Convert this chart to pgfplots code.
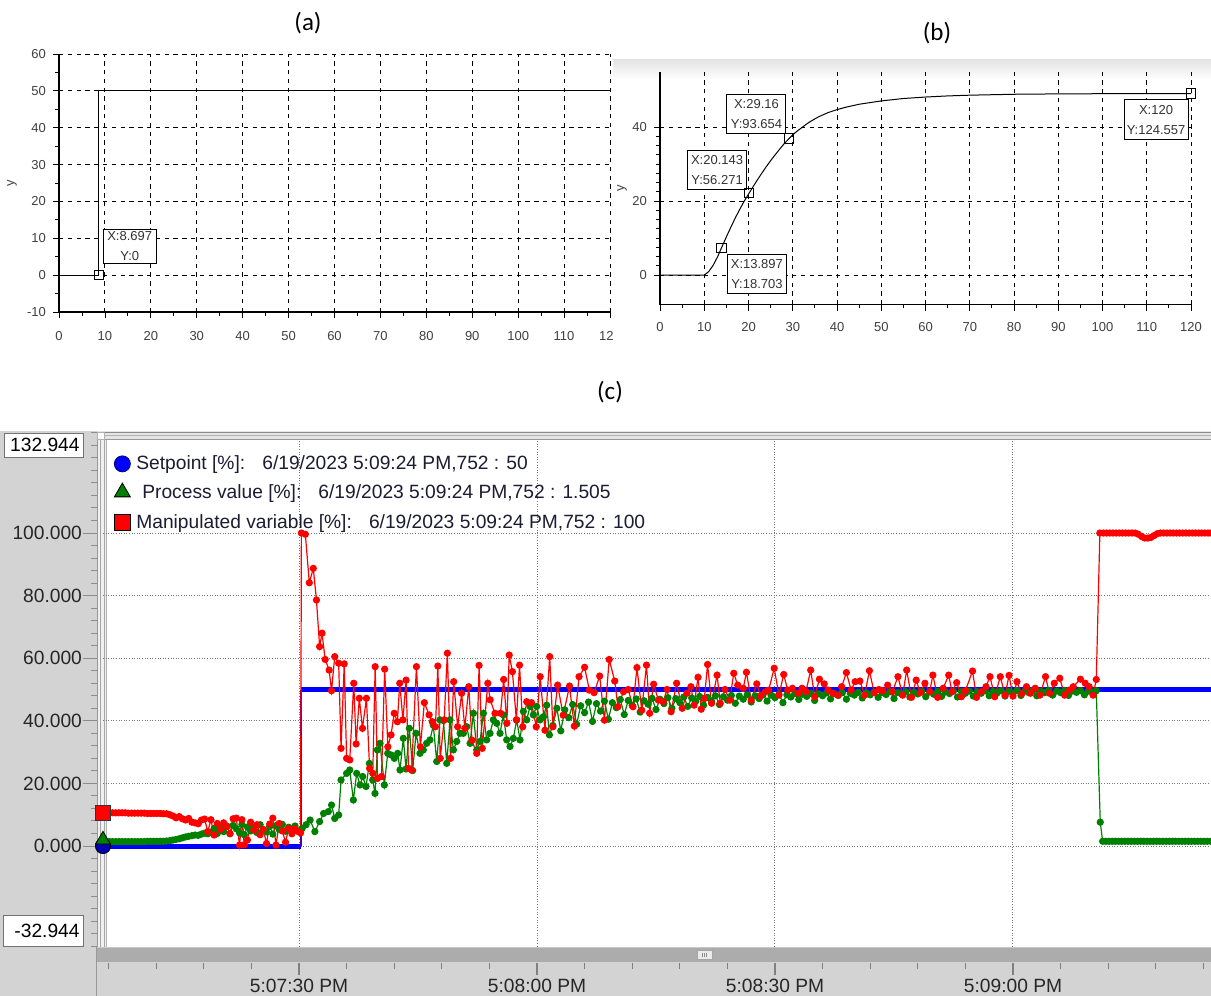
\documentclass[border=0pt]{standalone}
\usepackage{fontspec}
\setmainfont{Liberation Sans}
\newfontfamily\calibri{Carlito}
\usepackage{pgfplots}
\usepackage{pgfplotstable}
\pgfplotsset{compat=1.18}
\definecolor{mvred}{RGB}{255,0,0}
\definecolor{pvgreen}{RGB}{0,128,0}
\definecolor{spblue}{RGB}{0,0,255}
\definecolor{panelgray}{RGB}{211,211,211}
\definecolor{scrollgray}{RGB}{172,172,172}
\definecolor{gridgray}{RGB}{120,120,120}
\definecolor{legtext}{RGB}{28,28,50}
\newcommand\tickf{\fontsize{6.5}{7.5}\selectfont}
\newcommand\annf{\fontsize{6.5}{10}\selectfont}
\newcommand\cf{\fontsize{9.6}{11}\selectfont}

\pgfplotstableread{
t v
5.3 10.6
5.7 10.6
6.1 10.6
6.5 10.6
6.9 10.6
7.3 10.6
7.7 10.6
8.1 10.6
8.5 10.5
8.9 10.5
9.3 10.5
9.7 10.5
10.1 10.5
10.5 10.5
10.9 10.4
11.3 10.4
11.7 10.4
12.1 10.4
12.5 10.4
12.9 10.3
13.3 10.3
13.7 10.0
14.1 9.6
14.5 9.0
14.9 9.4
15.3 8.7
15.7 8.3
16.1 8.8
16.5 7.6
16.9 7.4
17.3 7.1
17.7 8.3
18.1 8.6
18.5 4.6
18.9 8.4
19.3 3.5
19.7 7.2
20.1 5.3
20.5 7.4
20.9 6.2
21.3 4.0
21.7 8.7
22.1 8.9
22.5 0.3
22.8 8.4
23.1 0.4
23.5 1.9
23.9 7.6
24.3 5.1
24.7 6.8
25.1 3.6
25.5 5.3
25.9 0.8
26.3 7.0
26.7 8.9
27.1 0.3
27.5 7.2
27.9 4.8
28.3 1.2
28.7 5.6
29.1 3.9
29.5 5.5
29.9 4.6
30.2 4.2
30.3 100
30.8 99.6
31.3 84.1
31.8 88.7
32.2 78.6
32.6 63.7
32.9 68.0
33.3 59.6
33.8 56.2
34.1 49.6
34.5 60.5
35.0 58.4
35.3 31.2
35.7 58.2
36.0 28.0
36.4 27.5
36.9 52.0
37.2 32.6
37.6 47.2
38.0 37.6
38.5 47.2
38.9 24.8
39.3 23.2
39.6 57.3
39.9 21.6
40.4 22.2
40.8 56.5
41.2 31.7
41.6 35.5
42.0 42.4
42.4 39.7
42.7 52.0
43.1 40.3
43.5 53.0
43.8 24.8
44.2 24.3
44.8 57.3
45.3 31.7
45.8 45.8
46.4 41.9
46.8 39.7
47.2 38.1
47.5 57.5
47.8 28.0
48.3 40.3
48.7 61.6
49.1 28.0
49.5 52.5
50.0 38.1
50.5 48.8
50.9 37.6
51.4 50.9
51.8 33.8
52.4 29.6
52.7 57.7
53.1 31.2
53.8 52.0
54.1 46.7
54.7 42.4
55.4 42.4
55.8 53.2
56.2 39.2
56.5 61.0
56.9 55.7
57.4 40.3
57.8 57.8
58.2 38.1
58.7 46.1
59.3 45.8
59.9 38.1
60.4 54.1
61.0 37.0
61.6 60.5
62.0 38.1
62.6 51.4
63.3 41.8
64.1 51.1
64.7 38.3
65.3 54.1
66.0 57.1
66.6 49.8
67.2 49.0
67.9 54.3
68.5 40.2
69.1 59.6
69.8 52.7
70.2 44.5
70.9 49.3
71.5 50.0
72.1 44.5
72.6 57.0
73.2 43.4
73.8 57.8
74.2 42.4
74.7 51.7
75.3 46.6
75.9 46.1
76.4 50.0
76.9 42.9
77.6 52.0
78.3 44.0
78.9 48.8
79.4 50.9
79.8 45.0
80.3 53.9
80.7 43.7
81.1 47.2
81.5 58.0
82.0 45.6
82.7 54.6
83.1 45.6
83.7 50.0
84.3 46.6
84.8 55.2
85.3 51.4
86.0 50.4
86.4 55.5
87.0 46.6
87.7 51.8
88.2 47.9
88.8 49.3
89.2 49.8
89.9 56.8
90.5 48.2
91.1 54.8
91.6 49.8
92.2 50.4
92.9 48.8
93.4 50.4
93.9 49.3
94.5 56.2
95.0 47.7
95.6 53.3
96.2 51.8
96.7 49.8
97.3 48.8
97.9 48.2
98.4 50.9
99.0 55.4
99.6 49.8
100.1 52.5
100.7 52.7
101.3 48.2
101.9 56.0
102.5 49.0
103.1 50.0
103.6 49.6
104.2 51.4
104.8 49.3
105.5 54.1
106.1 48.2
106.6 56.2
107.2 47.5
107.8 53.0
108.3 49.0
108.9 52.0
109.5 49.3
109.9 54.6
110.5 47.5
111.2 50.4
111.9 54.6
112.3 49.3
112.9 52.2
113.5 47.7
114.0 49.6
114.9 55.9
115.4 47.5
116.0 49.3
116.6 50.9
117.1 54.1
117.7 47.7
118.4 54.1
119.0 48.2
119.5 54.5
120.0 47.9
120.5 52.5
121.1 48.6
121.7 50.9
122.2 48.8
122.8 50.4
123.4 48.2
124.1 54.1
124.6 48.8
125.2 52.0
125.9 53.6
126.5 48.2
127.1 49.8
127.6 50.9
128.5 53.3
129.1 52.0
129.6 50.9
130.1 48.2
130.5 53.2
130.95 100
131.4 100
131.8 100
132.2 100
132.6 100
133.0 100
133.4 100
133.8 100
134.2 100
134.6 100
135.0 100
135.4 100
135.8 99.6
136.2 98.9
136.6 98.4
137.0 98.4
137.4 98.6
137.8 99.2
138.2 99.8
138.6 100
139.0 100
139.4 100
139.8 100
140.2 100
140.6 100
141.0 100
141.4 100
141.8 100
142.2 100
142.6 100
143.0 100
143.4 100
143.8 100
144.2 100
144.6 100
144.95 100
}\mvdata

\pgfplotstableread{
t v
5.3 1.4
5.7 1.4
6.1 1.4
6.5 1.4
6.9 1.4
7.3 1.4
7.7 1.4
8.1 1.4
8.5 1.4
8.9 1.4
9.3 1.4
9.7 1.4
10.1 1.4
10.5 1.4
10.9 1.5
11.3 1.5
11.7 1.5
12.1 1.5
12.5 1.5
12.9 1.5
13.3 1.6
13.7 1.7
14.1 1.9
14.5 2.1
14.9 2.3
15.3 2.6
15.7 2.9
16.1 3.1
16.5 3.3
16.9 3.5
17.3 3.4
17.7 3.8
18.1 4.1
18.5 3.9
18.9 4.4
19.3 5.6
19.7 4.0
20.1 5.8
20.5 4.6
20.9 6.4
21.3 3.9
21.7 6.6
22.1 5.5
22.5 4.2
22.8 6.9
23.1 3.6
23.5 6.1
23.9 4.8
24.3 5.9
24.7 4.3
25.1 6.8
25.5 5.1
25.9 4.5
26.3 6.2
26.7 3.8
27.1 6.5
27.5 5.3
27.9 6.9
28.3 4.7
28.7 6.0
29.1 5.2
29.5 6.4
29.9 4.8
30.4 5.6
30.9 6.8
31.4 8.3
32.0 4.6
32.6 7.8
33.1 10.4
33.7 11.0
34.1 13.1
34.5 8.8
35.0 9.9
35.3 21.1
36.0 23.2
36.4 24.3
36.85 14.7
37.27 23.2
37.69 19.5
38.03 22.2
38.45 19.0
38.87 26.4
39.29 21.1
39.58 16.8
39.88 30.7
40.21 32.8
40.76 19.5
41.18 29.6
41.6 29.1
42.02 28.0
42.44 29.6
42.73 24.3
43.15 34.4
43.49 24.6
43.91 37.6
44.33 24.1
44.75 36.0
45.25 29.6
45.67 30.7
46.09 32.8
46.51 33.9
46.93 38.6
47.36 27.0
47.78 40.3
48.2 40.1
48.62 26.4
49.04 40.3
49.46 30.7
49.88 33.4
50.3 36.0
50.72 36.0
51.14 38.1
51.56 32.8
51.98 42.4
52.4 30.7
52.82 33.4
53.24 42.4
53.66 33.9
54.08 36.0
54.5 40.3
54.92 39.2
55.34 36.0
55.76 41.9
56.18 33.9
56.6 31.8
57.02 34.4
57.44 40.3
57.86 33.9
58.28 43.0
58.7 40.3
59.12 44.6
59.54 41.9
59.96 44.6
60.38 40.3
60.8 41.3
61.22 45.0
61.56 35.5
62.0 38.5
62.5 44.0
63.0 36.8
63.5 43.5
64.0 41.0
64.5 45.2
65.0 38.9
65.5 44.8
66.0 42.6
66.5 46.0
67.0 39.8
67.5 45.5
68.0 43.1
68.5 46.3
69.0 40.5
69.5 45.8
70.0 44.2
70.5 46.8
71.0 42.0
71.5 46.5
72.0 44.9
72.5 47.0
73.0 42.8
73.5 46.4
74.0 45.3
74.5 47.2
75.0 43.6
75.5 46.9
76.0 45.5
76.5 47.4
77.0 44.0
77.5 47.1
78.0 45.8
78.5 47.6
79.0 44.6
79.5 47.3
80.0 46.2
80.5 47.8
81.0 45.0
81.5 47.5
82.0 46.3
82.5 48.0
83.0 45.2
83.5 47.7
84.0 46.6
84.5 48.1
85.0 45.6
85.5 47.9
86.0 46.9
86.5 48.3
87.0 46.0
87.5 48.0
88.0 47.1
88.5 48.4
89.0 46.3
89.5 48.2
90.0 47.4
90.5 48.5
91.0 45.8
91.5 48.3
92.0 47.6
92.5 48.7
93.0 46.8
93.5 48.5
94.0 47.8
94.5 48.8
95.0 46.5
95.5 48.6
96.0 48.0
96.5 48.9
97.0 47.0
97.5 48.7
98.0 48.1
98.5 49.0
99.0 46.9
99.5 48.8
100.0 48.2
100.5 49.1
101.0 47.3
101.5 48.9
102.0 48.3
102.5 49.2
103.0 47.5
103.5 49.0
104.0 48.4
104.5 49.3
105.0 47.1
105.5 49.0
106.0 48.5
106.5 49.3
107.0 47.6
107.5 49.1
108.0 48.6
108.5 49.4
109.0 47.7
109.5 49.2
110.0 48.5
110.5 49.4
111.0 47.8
111.5 49.2
112.0 48.7
112.5 49.5
113.0 47.6
113.5 49.3
114.0 48.8
114.5 49.5
115.0 47.9
115.5 49.3
116.0 48.8
116.5 49.6
117.0 48.0
117.5 49.4
118.0 48.9
118.5 49.6
119.0 47.9
119.5 49.4
120.0 48.9
120.5 49.6
121.0 48.1
121.5 49.5
122.0 49.0
122.5 49.7
123.0 48.0
123.5 49.4
124.0 49.0
124.5 49.7
125.0 48.2
125.5 49.5
126.0 49.0
126.5 49.7
127.0 48.1
127.5 49.5
128.0 49.1
128.5 49.7
129.0 48.3
129.5 49.5
130.0 49.1
130.5 49.6
131.0 7.6
131.3 1.5
131.7 1.5
132.1 1.5
132.5 1.5
132.9 1.5
133.3 1.5
133.7 1.5
134.1 1.5
134.5 1.5
134.9 1.5
135.3 1.5
135.7 1.5
136.1 1.5
136.5 1.5
136.9 1.5
137.3 1.5
137.7 1.5
138.1 1.5
138.5 1.5
138.9 1.5
139.3 1.5
139.7 1.5
140.1 1.5
140.5 1.5
140.9 1.5
141.3 1.5
141.7 1.5
142.1 1.5
142.5 1.5
142.9 1.5
143.3 1.5
143.7 1.5
144.1 1.5
144.5 1.5
144.95 1.5
}\pvdata

\begin{document}
\begin{tikzpicture}
\path[use as bounding box] (0,0) rectangle (605.5pt,-498pt);
\fill[white] (0,0) rectangle (605.5pt,-498pt);

% ---------------- panel (a)
\begin{axis}[
  scale only axis, width=275.5pt, height=129pt,
  at={(29.5pt,-156pt)}, anchor=south west,
  xmin=0, xmax=120, ymin=-10, ymax=60,
  axis x line*=bottom, axis y line*=left,
  axis line style={-, black, line width=0.6pt},
  xtick={0,10,...,120}, ytick={-10,0,...,60},
  minor x tick num=1, minor y tick num=1,
  tick align=outside, major tick length=3pt, minor tick length=1.8pt,
  tick style={black, line width=0.4pt},
  grid=major, grid style={black, line width=0.5pt, dash pattern=on 2.2pt off 2.2pt},
  ticklabel style={font=\tickf, text=black!75},
  xticklabel style={yshift=-3pt},
  /pgf/number format/assume math mode=true,
  ylabel={y}, every axis y label/.style={at={(axis description cs:-0.085,0.5)}, rotate=90, anchor=center, font=\tickf, text=black!75},
  clip=false,
]
\addplot[black, line width=0.5pt] coordinates {(0,0) (8.697,0) (8.697,50) (120,50)};
\addplot[only marks, mark=square, mark size=2.3pt, black, mark options={line width=0.5pt}] coordinates {(8.697,0)};
\node[draw=black, fill=white, line width=0.5pt, align=center, font=\annf, text=black!80, inner sep=1pt, minimum width=26.5pt, minimum height=17pt] at (axis cs:15.4,7.8) {X:8.697\\Y:0};
\end{axis}

% cover for panel (b)
\fill[white] (306.5pt,0) rectangle (605.5pt,-175pt);
\shade[top color=black!11, bottom color=white] (306.5pt,-29.5pt) rectangle (605.5pt,-40pt);

% ---------------- panel (b)
\begin{axis}[
  scale only axis, width=265.5pt, height=116.55pt,
  at={(330pt,-152.3pt)}, anchor=south west,
  xmin=0, xmax=120, ymin=-8, ymax=55,
  axis x line*=bottom, axis y line*=left,
  axis line style={-, black, line width=0.6pt},
  xtick={0,10,...,120}, ytick={0,20,40},
  minor x tick num=1, minor y tick num=7,
  tick align=outside, major tick length=3pt, minor tick length=1.8pt,
  tick style={black, line width=0.4pt},
  grid=major, grid style={black, line width=0.5pt, dash pattern=on 2.2pt off 2.2pt},
  ticklabel style={font=\tickf, text=black!75},
  xticklabel style={yshift=-2.5pt},
  /pgf/number format/assume math mode=true,
  ylabel={y}, every axis y label/.style={at={(axis description cs:-0.0716,0.5)}, rotate=90, anchor=center, font=\tickf, text=black!75},
  clip=false,
]
\addplot[black, line width=0.5pt] coordinates {(0,0) (10,0) (11,0.9) (12,2.6) (13,4.9) (13.897,7.36) (15,10.3) (16,12.9) (17,15.4) (18,17.7) (19,19.9) (20.143,22.15) (21,23.8) (22,25.7) (23,27.5) (24,29.25) (25,30.9) (26,32.45) (27,33.95) (28,35.4) (29.16,36.87) (30,37.9) (31,38.9) (32,39.8) (33,40.7) (34,41.5) (35,42.2) (36,42.85) (38,43.9) (40,44.7) (42,45.35) (45,46.15) (50,47.05) (55,47.7) (60,48.1) (65,48.4) (70,48.6) (80,48.85) (90,48.95) (100,49.0) (120,49.04)};
\addplot[only marks, mark=square, mark size=2.3pt, black, mark options={line width=0.5pt}] coordinates {(13.897,7.36) (20.143,22.15) (29.16,36.87) (120,49.04)};
\node[draw=black, fill=white, line width=0.5pt, align=center, font=\annf, text=black!80, inner sep=1pt, minimum width=29.5pt, minimum height=19.5pt] at (axis cs:21.8,43.4) {X:29.16\\Y:93.654};
\node[draw=black, fill=white, line width=0.5pt, align=center, font=\annf, text=black!80, inner sep=1pt, minimum width=29.5pt, minimum height=19.5pt] at (axis cs:12.9,28.4) {X:20.143\\Y:56.271};
\node[draw=black, fill=white, line width=0.5pt, align=center, font=\annf, text=black!80, inner sep=1pt, minimum width=29.5pt, minimum height=19.5pt] at (axis cs:21.9,0.3) {X:13.897\\Y:18.703};
\node[draw=black, fill=white, line width=0.5pt, align=center, font=\annf, text=black!80, inner sep=1pt, minimum width=32pt, minimum height=20pt] at (axis cs:112.1,41.9) {X:120\\Y:124.557};
\end{axis}

% titles
\node[font=\calibri\fontsize{12.5}{14}\selectfont] at (154pt,-11.5pt) {(a)};
\node[font=\calibri\fontsize{12.5}{14}\selectfont] at (468.5pt,-16.5pt) {(b)};
\node[font=\calibri\fontsize{12.5}{14}\selectfont] at (305pt,-196pt) {(c)};

% ---------------- panel (c) background
\fill[panelgray] (0,-215.5pt) rectangle (605.5pt,-498pt);
\fill[white] (53.5pt,-220pt) rectangle (605.5pt,-473.5pt);
\fill[black!6] (48.5pt,-216pt) rectangle (53.5pt,-473.5pt);
\draw[black!40, line width=0.5pt] (48.5pt,-216pt) -- (48.5pt,-473.5pt);
\draw[black!35, line width=0.5pt] (50pt,-216pt) -- (50pt,-473.5pt);
\draw[black!35, line width=0.5pt] (52pt,-216pt) -- (52pt,-473.5pt);
\draw[black!30, line width=0.5pt] (53.3pt,-216pt) -- (53.3pt,-473.5pt);

% ---------------- panel (c) main axis
\begin{axis}[
  scale only axis, width=554pt, height=259.6pt,
  at={(51.5pt,-474.55pt)}, anchor=south west,
  xmin=5.293, xmax=144.96, ymin=-32.944, ymax=132.944,
  axis line style={draw=none},
  xtick={30,60,90,120}, xticklabels={}, xmajorgrids,
  ytick={0,20,...,100}, yticklabels={0.000,20.000,40.000,60.000,80.000,100.000}, ymajorgrids,
  minor ytick={-32,-28,...,132},
  ytick pos=left,
  tick align=outside, major tick length=7pt, minor tick length=3pt,
  xtick style={draw=none},
  ytick style={black!45, line width=0.5pt, xshift=-3pt},
  grid style={gridgray, line width=0.5pt, dash pattern=on 0.5pt off 0.8pt},
  yticklabel style={font=\cf, text=black!85, anchor=east},
  clip=false,
  legend style={at={(axis description cs:0.0099,0.9575)}, anchor=north west, draw=none, fill=none, font=\cf, text=legtext, row sep=3.2pt, inner sep=0pt, nodes={inner sep=1pt, text height=7.5pt, text depth=2pt}},
  legend cell align=left,
]
\addplot[spblue, line width=2.5pt, forget plot] coordinates {(5.293,0) (30.25,0)};
\addplot[spblue, line width=2.5pt, forget plot] coordinates {(30.25,50) (144.96,50)};
\addplot[spblue!70!mvred, line width=1.1pt, forget plot] coordinates {(30.25,0) (30.25,50)};
\addplot[pvgreen, line width=0.6pt, mark=*, mark size=1.5pt, mark options={fill=pvgreen, draw=pvgreen}, forget plot] table[x=t, y=v] {\pvdata};
\addplot[mvred, line width=0.6pt, mark=*, mark size=1.5pt, mark options={fill=mvred, draw=mvred}, forget plot] table[x=t, y=v] {\mvdata};
\addplot[only marks, mark=*, mark size=3.8pt, mark options={fill=spblue!70!black, draw=black}, forget plot] coordinates {(5.293,0)};
\addplot[only marks, mark=triangle*, mark size=4.2pt, mark options={fill=pvgreen, draw=black}, forget plot] coordinates {(5.293,2.0)};
\addplot[only marks, mark=square*, mark size=3.8pt, mark options={fill=mvred, draw=black!80}, forget plot] coordinates {(5.293,10.6)};
\addlegendimage{legend image code/.code={\draw[black!50!blue, fill=spblue] plot[mark=*, mark size=4pt, only marks] coordinates {(4pt,0pt)};}}
\addlegendentry{\hspace{2pt}Setpoint [\%]:\hspace{5pt} 6/19/2023 5:09:24 PM,752 : 50}
\addlegendimage{legend image code/.code={\draw[black, fill=pvgreen] plot[mark=triangle*, mark size=4.6pt, only marks] coordinates {(4pt,0.5pt)};}}
\addlegendentry{\hspace{5pt}Process value [\%]:\hspace{5pt} 6/19/2023 5:09:24 PM,752 : 1.505}
\addlegendimage{legend image code/.code={\draw[black, fill=mvred] plot[mark=square*, mark size=4pt, only marks] coordinates {(4pt,0pt)};}}
\addlegendentry{\hspace{2pt}Manipulated variable [\%]:\hspace{5pt} 6/19/2023 5:09:24 PM,752 : 100}
\end{axis}

% header band and scrollbar overlays
\fill[black!10] (48.5pt,-215.5pt) rectangle (605.5pt,-220pt);
\draw[black!45, line width=0.5pt] (48.5pt,-216.2pt) -- (605.5pt,-216.2pt);
\draw[black!30, line width=0.5pt] (52pt,-217.8pt) -- (605.5pt,-217.8pt);
\draw[black!40, line width=0.5pt] (52pt,-219.6pt) -- (605.5pt,-219.6pt);
\fill[white, draw=black!30, line width=0.4pt] (48.6pt,-216pt) rectangle (52.2pt,-219.6pt);
\fill[scrollgray] (48pt,-473.5pt) rectangle (605.5pt,-481.2pt);
\draw[black!22, line width=0.6pt] (48pt,-473.8pt) -- (605.5pt,-473.8pt);
\fill[black!8, draw=black!35, line width=0.3pt] (348.5pt,-475.3pt) rectangle (356pt,-479.6pt);
\draw[black!45, line width=0.3pt] (351.2pt,-476.3pt) -- (351.2pt,-478.6pt) (352.25pt,-476.3pt) -- (352.25pt,-478.6pt) (353.3pt,-476.3pt) -- (353.3pt,-478.6pt);
\draw[black!40, line width=0.5pt] (48pt,-473.5pt) -- (48pt,-498pt);

% time axis
\begin{axis}[
  scale only axis, width=554pt, height=4pt,
  at={(51.5pt,-481.5pt)}, anchor=south west,
  xmin=5.293, xmax=144.96, ymin=0, ymax=1,
  hide y axis, axis x line*=bottom, x axis line style={draw=none},
  xtick={30,60,90,120}, xticklabels={5:07:30 PM,5:08:00 PM,5:08:30 PM,5:09:00 PM},
  minor xtick={6,12,18,24,36,42,48,54,66,72,78,84,96,102,108,114,126,132,138,144},
  tick align=outside, major tick length=6pt, minor tick length=3pt,
  tick style={black!50, line width=0.6pt},
  xticklabel style={font=\fontsize{9.6}{11}\selectfont, text=black!85, inner sep=0pt, anchor=south, yshift=-9pt},
]
\addplot[draw=none, forget plot] coordinates {(10,0.5)};
\end{axis}

% range boxes
\draw[black!55, fill=white, line width=0.5pt] (2pt,-216.5pt) rectangle (41.5pt,-228.5pt);
\node[font=\cf, anchor=east, inner sep=0pt] at (40pt,-222.6pt) {132.944};
\draw[black!55, fill=white, line width=0.5pt] (1.5pt,-457.5pt) rectangle (41.5pt,-473.3pt);
\node[font=\cf, anchor=east, inner sep=0pt] at (40pt,-465.5pt) {-32.944};
\end{tikzpicture}
\end{document}
